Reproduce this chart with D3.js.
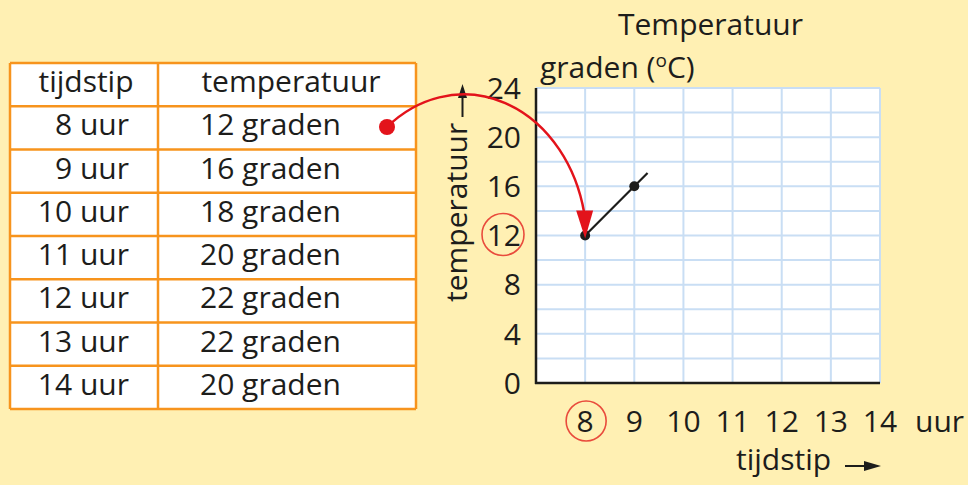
<!DOCTYPE html>
<html>
<head>
<meta charset="utf-8">
<script src="https://cdn.jsdelivr.net/npm/d3@7"></script>
<style>
  body { margin: 0; background: #fff0b3; }
  svg { display: block; font-family: "Open Sans", sans-serif; }
</style>
</head>
<body>
<svg id="chart" width="968" height="485"></svg>
<script>
// gegevens uit de tabel
var hours = [8, 9, 10, 11, 12, 13, 14];
var temps = [12, 16, 18, 20, 22, 22, 20];
var headers = ["tijdstip", "temperatuur"];
var xTicks = [8, 9, 10, 11, 12, 13, 14];
var yTicks = [0, 4, 8, 12, 16, 20, 24];
var plotted = 2;      // alleen de eerste twee punten zijn al getekend
var highlight = 0;    // rij die met de rode pijl wordt aangewezen

var svg = d3.select("#chart");
var red = "#e3131b";
var orange = "#f7941d";
var ink = "#1d1d1b";
var fs = 30;

svg.append("rect").attr("width", 968).attr("height", 485).attr("fill", "#fff0b3");

// ---------- tabel ----------
var rowScale = d3.scaleBand().domain(d3.range(hours.length + 1)).range([63, 409]);
var colX = [10, 158, 416];
var table = svg.append("g");

table.append("rect")
  .attr("x", colX[0]).attr("y", rowScale.range()[0])
  .attr("width", colX[2] - colX[0]).attr("height", rowScale.range()[1] - rowScale.range()[0])
  .attr("fill", "white");

table.selectAll(".hline").data(d3.range(hours.length + 2)).enter().append("line")
  .attr("x1", colX[0]).attr("x2", colX[2])
  .attr("y1", function(i) { return i <= hours.length ? rowScale(i) : rowScale.range()[1]; })
  .attr("y2", function(i) { return i <= hours.length ? rowScale(i) : rowScale.range()[1]; })
  .attr("stroke", orange).attr("stroke-width", 2.5);

table.selectAll(".vline").data(colX).enter().append("line")
  .attr("x1", function(d) { return d; }).attr("x2", function(d) { return d; })
  .attr("y1", rowScale.range()[0]).attr("y2", rowScale.range()[1])
  .attr("stroke", orange).attr("stroke-width", 2.5);

table.selectAll(".head").data(headers).enter().append("text")
  .attr("x", function(d, i) { return i == 0 ? 86 : 291; })
  .attr("y", rowScale(0) + 29)
  .attr("text-anchor", "middle")
  .attr("font-size", fs).attr("fill", ink)
  .text(function(d) { return d; });

var rows = table.selectAll(".row").data(hours).enter().append("g")
  .attr("transform", function(d, i) { return "translate(0," + (rowScale(i + 1) + 29) + ")"; });
rows.append("text")
  .attr("x", 129).attr("text-anchor", "end")
  .attr("font-size", fs).attr("fill", ink)
  .text(function(d) { return d + " uur"; });
rows.append("text")
  .attr("x", 200)
  .attr("font-size", fs).attr("fill", ink)
  .text(function(d, i) { return temps[i] + " graden"; });

// ---------- grafiek ----------
var x = d3.scaleLinear().domain([7, 14]).range([536, 880]);
var y = d3.scaleLinear().domain([0, 24]).range([383, 88]);

svg.append("rect")
  .attr("x", x(7)).attr("y", y(24))
  .attr("width", x(14) - x(7)).attr("height", y(0) - y(24))
  .attr("fill", "white");

var grid = svg.append("g").attr("stroke", "#c9def4").attr("stroke-width", 2);
grid.selectAll(".gx").data(d3.range(8, 15)).enter().append("line")
  .attr("x1", function(d) { return x(d); }).attr("x2", function(d) { return x(d); })
  .attr("y1", y(0)).attr("y2", y(24));
grid.selectAll(".gy").data(d3.range(2, 25, 2)).enter().append("line")
  .attr("y1", function(d) { return y(d); }).attr("y2", function(d) { return y(d); })
  .attr("x1", x(7)).attr("x2", x(14));

// assen
svg.append("line").attr("x1", x(7)).attr("x2", x(7)).attr("y1", y(24)).attr("y2", y(0) + 1)
  .attr("stroke", ink).attr("stroke-width", 2.5);
svg.append("line").attr("x1", x(7) - 1).attr("x2", x(14)).attr("y1", y(0)).attr("y2", y(0))
  .attr("stroke", ink).attr("stroke-width", 2.5);

svg.selectAll(".ylab").data(yTicks).enter().append("text")
  .attr("x", 521).attr("y", function(d) { return y(d); })
  .attr("dy", "0.36em").attr("text-anchor", "end")
  .attr("font-size", fs).attr("fill", ink)
  .text(function(d) { return d; });

svg.selectAll(".xlab").data(xTicks).enter().append("text")
  .attr("x", function(d) { return x(d); }).attr("y", 432)
  .attr("text-anchor", "middle")
  .attr("font-size", fs).attr("fill", ink)
  .text(function(d) { return d; });
svg.append("text").attr("x", 915).attr("y", 432)
  .attr("font-size", fs).attr("fill", ink).text("uur");

// rode cirkels om 8 en 12
svg.append("circle").attr("cx", x(hours[highlight]) + 1).attr("cy", 421).attr("r", 20)
  .attr("fill", "none").attr("stroke", "#e94b3c").attr("stroke-width", 1.6);
svg.append("circle").attr("cx", 503).attr("cy", y(temps[highlight]) - 1).attr("r", 21)
  .attr("fill", "none").attr("stroke", "#e94b3c").attr("stroke-width", 1.6);

// titels
svg.append("text").attr("x", 618).attr("y", 35)
  .attr("font-size", fs).attr("fill", ink).text("Temperatuur");
var gt = svg.append("text").attr("x", 540).attr("y", 78)
  .attr("font-size", fs).attr("fill", ink);
gt.append("tspan").text("graden (");
gt.append("tspan").attr("font-size", 19).attr("dy", -11).text("o");
gt.append("tspan").attr("dy", 11).text("C)");

svg.append("text")
  .attr("transform", "translate(467,302) rotate(-90)")
  .attr("font-size", fs).attr("fill", ink).text("temperatuur");
svg.append("text").attr("x", 736).attr("y", 470)
  .attr("font-size", fs).attr("fill", ink).text("tijdstip");

// pijltjes bij de aslabels
svg.append("line").attr("x1", 462.5).attr("x2", 462.5).attr("y1", 117).attr("y2", 95)
  .attr("stroke", ink).attr("stroke-width", 2);
svg.append("path").attr("d", "M458,98L462.5,84L467,98Z").attr("fill", ink);
svg.append("line").attr("x1", 845).attr("x2", 868).attr("y1", 466).attr("y2", 466)
  .attr("stroke", ink).attr("stroke-width", 2);
svg.append("path").attr("d", "M864,461L881,466L864,471Z").attr("fill", ink);

// getekende lijn: eerste punten plus een stukje doorgetrokken
var pts = hours.slice(0, plotted).map(function(h, i) { return [x(h), y(temps[i])]; });
var a = pts[pts.length - 2], b = pts[pts.length - 1];
var ext = [b[0] + (b[0] - a[0]) * 0.27, b[1] + (b[1] - a[1]) * 0.27];
svg.append("path")
  .attr("d", d3.line()(pts.concat([ext])))
  .attr("fill", "none").attr("stroke", ink).attr("stroke-width", 2.2);
svg.selectAll(".pt").data(pts).enter().append("circle")
  .attr("cx", function(d) { return d[0]; }).attr("cy", function(d) { return d[1]; })
  .attr("r", 5).attr("fill", ink);

// rode pijl van tabel naar grafiek
var start = [387, 127];
var tip = [x(hours[highlight]), y(temps[highlight]) + 3];
svg.append("path")
  .attr("d", "M" + start[0] + "," + start[1] + " A123,149 0 0,1 " + (tip[0] - 1) + "," + (tip[1] - 26))
  .attr("fill", "none").attr("stroke", red).attr("stroke-width", 2.5);
svg.append("path")
  .attr("d", "M" + (tip[0] - 9) + "," + (tip[1] - 28) + "L" + (tip[0] + 8) + "," + (tip[1] - 28) + "L" + tip[0] + "," + tip[1] + "Z")
  .attr("fill", red);
svg.append("circle").attr("cx", start[0]).attr("cy", start[1]).attr("r", 8).attr("fill", red);
</script>
</body>
</html>
